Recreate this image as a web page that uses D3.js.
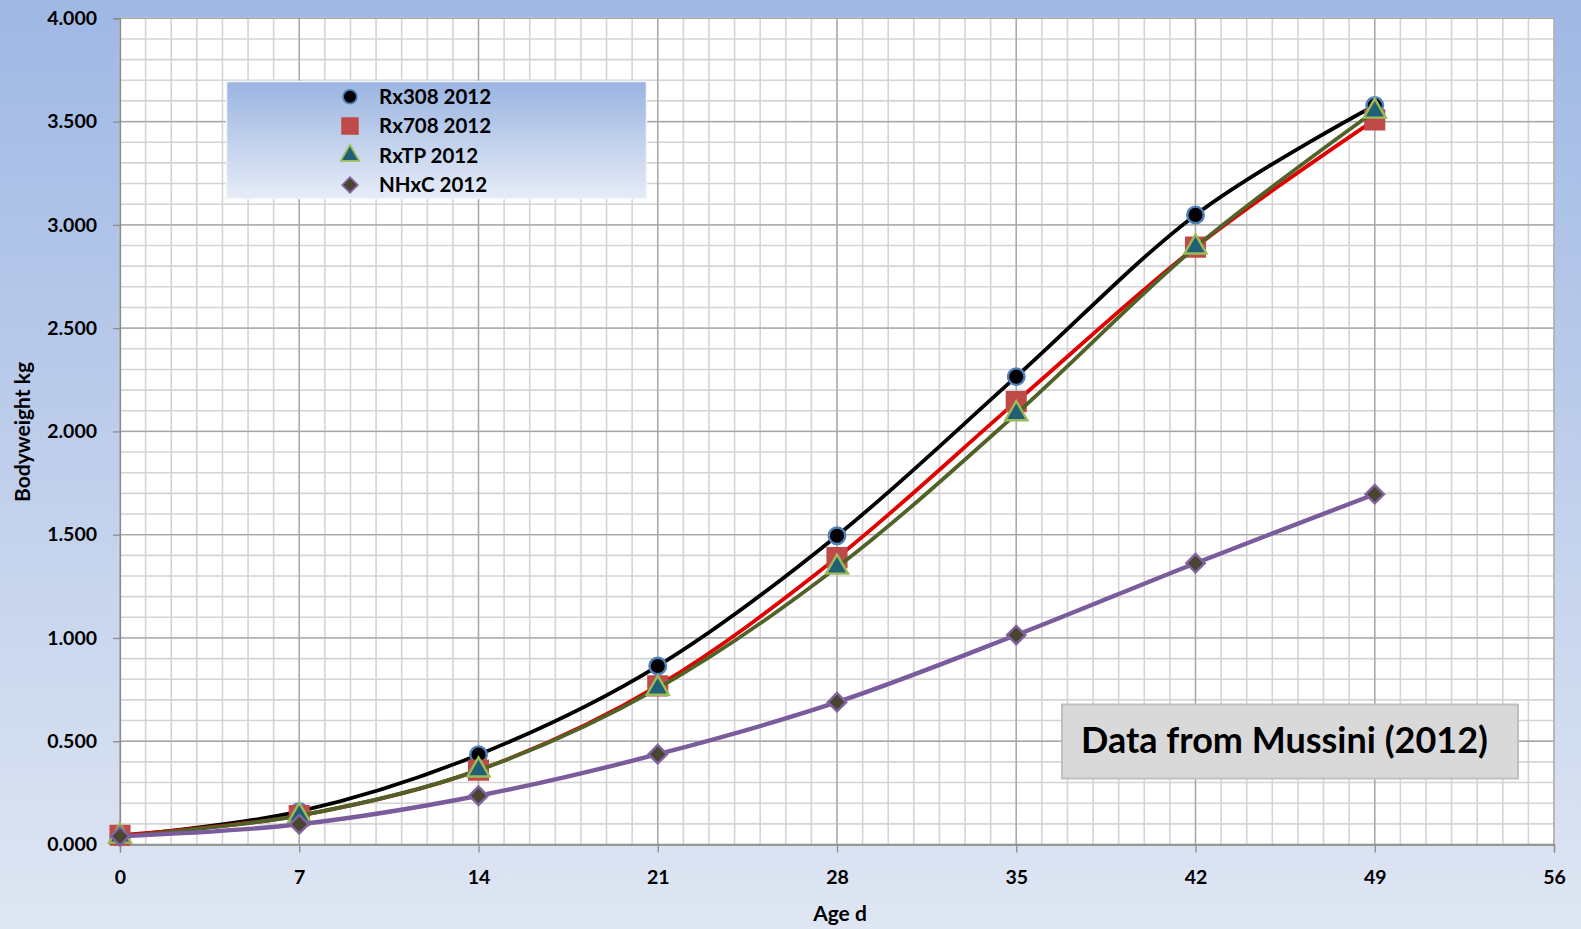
<!DOCTYPE html>
<html>
<head>
<meta charset="utf-8">
<script src="https://cdn.jsdelivr.net/npm/d3@7"></script>
<style>
  body { margin: 0; padding: 0; overflow: hidden; }
  svg { display: block; }
  text { font-family: Lato, "Open Sans", sans-serif; font-weight: bold; fill: #000; }
</style>
</head>
<body>
<script>
// data (age in days, bodyweight in kg)
var ages = [0, 7, 14, 21, 28, 35, 42, 49];
var rx308 = [0.040, 0.160, 0.435, 0.864, 1.495, 2.265, 3.048, 3.578];
var rx708 = [0.045, 0.140, 0.360, 0.768, 1.389, 2.144, 2.892, 3.508];
var rxtp  = [0.040, 0.140, 0.360, 0.756, 1.342, 2.085, 2.892, 3.550];
var nhxc  = [0.040, 0.098, 0.236, 0.437, 0.689, 1.014, 1.362, 1.696];
var seriesNames = ['Rx308 2012', 'Rx708 2012', 'RxTP 2012', 'NHxC 2012'];
var xTicks = [0, 7, 14, 21, 28, 35, 42, 49, 56];
var yTicks = [0, 0.5, 1, 1.5, 2, 2.5, 3, 3.5, 4];
var note = 'Data from Mussini (2012)';

var W = 1581, H = 929;
var plotL = 120, plotR = 1554, plotT = 18.3, plotB = 844.5;

var svg = d3.select('body').append('svg').attr('width', W).attr('height', H);
var defs = svg.append('defs');

var bg = defs.append('linearGradient').attr('id', 'bg').attr('x1', 0).attr('y1', 0).attr('x2', 0).attr('y2', 1);
bg.append('stop').attr('offset', '0%').attr('stop-color', '#9fb8e4');
bg.append('stop').attr('offset', '100%').attr('stop-color', '#dfe6f3');

var lg = defs.append('linearGradient').attr('id', 'lg').attr('x1', 0).attr('y1', 0).attr('x2', 0).attr('y2', 1);
lg.append('stop').attr('offset', '0%').attr('stop-color', '#9ab4e1');
lg.append('stop').attr('offset', '100%').attr('stop-color', '#e6ecf7');

svg.append('rect').attr('width', W).attr('height', H).attr('fill', 'url(#bg)');

var x = d3.scaleLinear().domain([0, 56]).range([plotL, plotR]);
var y = d3.scaleLinear().domain([0, 4]).range([plotB, plotT]);

// plot area
svg.append('rect').attr('x', plotL).attr('y', plotT).attr('width', plotR - plotL).attr('height', plotB - plotT).attr('fill', '#fff');

// minor grid (every day / every 0.1 kg)
var g = svg.append('g');
g.selectAll('.vminor').data(d3.range(0, 57)).enter().append('line')
  .attr('x1', d => x(d)).attr('x2', d => x(d)).attr('y1', plotT).attr('y2', plotB)
  .attr('stroke', '#d4d4d4').attr('stroke-width', 1.6);
g.selectAll('.hminor').data(d3.range(0, 41).map(d => d / 10)).enter().append('line')
  .attr('x1', plotL).attr('x2', plotR).attr('y1', d => y(d)).attr('y2', d => y(d))
  .attr('stroke', '#d4d4d4').attr('stroke-width', 1.6);
// major grid
g.selectAll('.vmajor').data(xTicks).enter().append('line')
  .attr('x1', d => x(d)).attr('x2', d => x(d)).attr('y1', plotT).attr('y2', plotB)
  .attr('stroke', '#a6a6a6').attr('stroke-width', 1.3);
g.selectAll('.hmajor').data(yTicks).enter().append('line')
  .attr('x1', plotL).attr('x2', plotR).attr('y1', d => y(d)).attr('y2', d => y(d))
  .attr('stroke', '#a6a6a6').attr('stroke-width', 1.3);

// axes
var xAxis = svg.append('g').attr('transform', 'translate(0,' + plotB + ')')
  .call(d3.axisBottom(x).tickValues(xTicks).tickSize(8).tickPadding(18).tickFormat(d3.format('d')));
var yAxis = svg.append('g').attr('transform', 'translate(' + plotL + ',0)')
  .call(d3.axisLeft(y).tickValues(yTicks).tickSize(7).tickPadding(16).tickFormat(d3.format('.3f')));
[xAxis, yAxis].forEach(a => {
  a.select('.domain').attr('stroke', '#8c8c8c').attr('stroke-width', 1.3);
  a.selectAll('.tick line').attr('stroke', '#8c8c8c').attr('stroke-width', 1.3);
  a.selectAll('text').attr('font-family', 'Lato, sans-serif').attr('font-weight', 'bold')
    .attr('font-size', 19.5).attr('fill', '#111');
});
xAxis.selectAll('text').attr('dy', '0.35em').attr('y', 33);

svg.append('text').attr('x', 840).attr('y', 921).attr('text-anchor', 'middle')
  .attr('font-size', 21).text('Age d');
svg.append('text').attr('transform', 'translate(30,432) rotate(-90)').attr('text-anchor', 'middle')
  .attr('font-size', 21).text('Bodyweight kg');

// series
var series = [
  { name: seriesNames[0], vals: rx308, line: '#000000', lw: 3.8, shape: d3.symbolCircle, size: 215, rot: 0, fill: '#000000', stroke: '#4f81bd' },
  { name: seriesNames[1], vals: rx708, line: '#e00000', lw: 3.8, shape: d3.symbolSquare, size: 350, rot: 0, fill: '#be4b48', stroke: '#be4b48' },
  { name: seriesNames[2], vals: rxtp, line: '#4f6228', lw: 3.8, shape: d3.symbolTriangle, size: 210, rot: 0, fill: '#215f74', stroke: '#9bbb59' },
  { name: seriesNames[3], vals: nhxc, line: '#7a5c9c', lw: 4.4, shape: d3.symbolSquare, size: 170, rot: 45, fill: '#4a4530', stroke: '#8064a2' }
];

var line = d3.line().x(d => x(d[0])).y(d => y(d[1])).curve(d3.curveCardinal.tension(0));

series.forEach(s => {
  var pts = ages.map((a, i) => [a, s.vals[i]]);
  svg.append('path').datum(pts).attr('d', line).attr('fill', 'none')
    .attr('stroke', s.line).attr('stroke-width', s.lw).attr('stroke-linejoin', 'round');
  svg.append('g').selectAll('path').data(pts).enter().append('path')
    .attr('d', d3.symbol().type(s.shape).size(s.size))
    .attr('transform', d => 'translate(' + x(d[0]) + ',' + y(d[1]) + ') rotate(' + s.rot + ')')
    .attr('fill', s.fill).attr('stroke', s.stroke).attr('stroke-width', 2.4);
});

// legend
var leg = svg.append('g');
leg.append('rect').attr('x', 226.5).attr('y', 81.5).attr('width', 420).attr('height', 117)
  .attr('fill', 'url(#lg)').attr('stroke', '#f2f5fb').attr('stroke-width', 1.5);
series.forEach((s, i) => {
  var cy = 96.7 + i * 29.4;
  leg.append('path').attr('d', d3.symbol().type(s.shape).size(s.size * 0.7))
    .attr('transform', 'translate(350,' + cy + ') rotate(' + s.rot + ')')
    .attr('fill', s.fill).attr('stroke', s.stroke).attr('stroke-width', 1.8);
  leg.append('text').attr('x', 379).attr('y', cy).attr('dy', '0.36em')
    .attr('font-size', 20.5).text(s.name);
});

// note box
svg.append('rect').attr('x', 1062).attr('y', 704.5).attr('width', 456).attr('height', 74)
  .attr('fill', '#d9d9d9').attr('stroke', '#bfbfbf').attr('stroke-width', 2);
svg.append('text').attr('x', 1081).attr('y', 753).attr('font-size', 36).text(note);
</script>
</body>
</html>
